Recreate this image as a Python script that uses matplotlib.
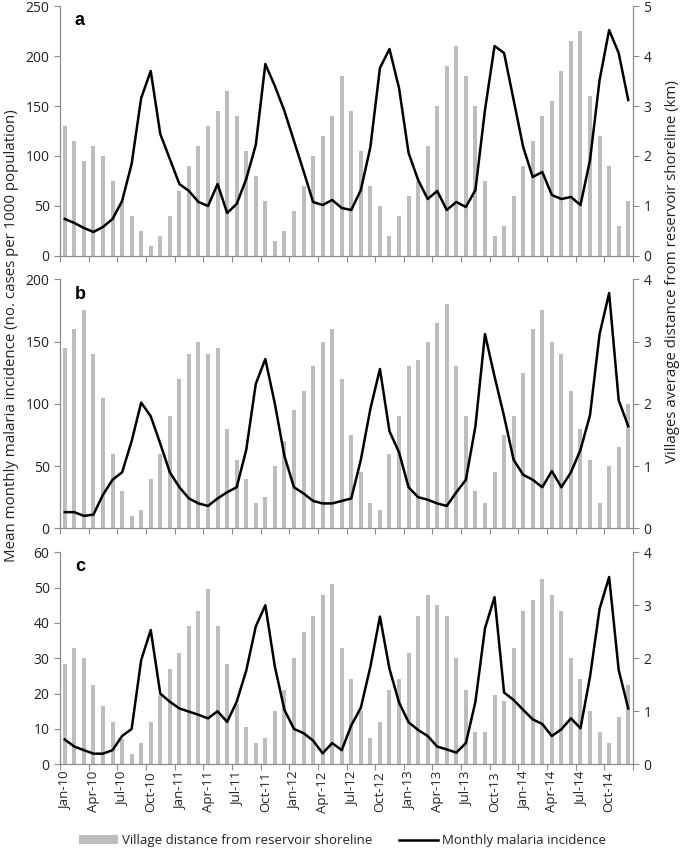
import numpy as np
import matplotlib
matplotlib.use("Agg")
import matplotlib.pyplot as plt
from matplotlib.patches import Patch
from matplotlib.lines import Line2D

plt.rcParams['font.family'] = ['Open Sans', 'DejaVu Sans']

# month labels shown on the x axis (every 3rd month, Jan-10 .. Oct-14)
tick_labels = ["Jan-10", "Apr-10", "Jul-10", "Oct-10",
               "Jan-11", "Apr-11", "Jul-11", "Oct-11",
               "Jan-12", "Apr-12", "Jul-12", "Oct-12",
               "Jan-13", "Apr-13", "Jul-13", "Oct-13",
               "Jan-14", "Apr-14", "Jul-14", "Oct-14"]

# panel a
dist_a = [2.6, 2.3, 1.9, 2.2, 2.0, 1.5, 1.1, 0.8, 0.5, 0.2,
          0.4, 0.8, 1.3, 1.8, 2.2, 2.6, 2.9, 3.3, 2.8, 2.1,
          1.6, 1.1, 0.3, 0.5, 0.9, 1.4, 2.0, 2.4, 2.8, 3.6,
          2.9, 2.1, 1.4, 1.0, 0.4, 0.8, 1.2, 1.5, 2.2, 3.0,
          3.8, 4.2, 3.6, 3.0, 1.5, 0.4, 0.6, 1.2, 1.8, 2.3,
          2.8, 3.1, 3.7, 4.3, 4.5, 3.2, 2.4, 1.8, 0.6, 1.1]
inc_a = [37, 33, 28, 24, 29, 37, 55, 92, 158, 185,
         122, 97, 72, 65, 54, 50, 72, 43, 52, 77,
         111, 192, 170, 145, 115, 85, 54, 51, 56, 48,
         46, 66, 109, 188, 207, 168, 103, 76, 57, 65,
         46, 54, 49, 66, 146, 210, 203, 156, 109, 79,
         84, 61, 57, 59, 51, 96, 176, 226, 203, 156]

# panel b
dist_b = [2.9, 3.2, 3.5, 2.8, 2.1, 1.2, 0.6, 0.2, 0.3, 0.8,
          1.2, 1.8, 2.4, 2.8, 3.0, 2.8, 2.9, 1.6, 1.1, 0.8,
          0.4, 0.5, 1.0, 1.4, 1.9, 2.2, 2.6, 3.0, 3.2, 2.4,
          1.5, 0.9, 0.4, 0.3, 1.2, 1.8, 2.6, 2.7, 3.0, 3.3,
          3.6, 2.6, 1.8, 0.6, 0.4, 0.9, 1.5, 1.8, 2.5, 3.2,
          3.5, 3.0, 2.8, 2.2, 1.6, 1.1, 0.4, 1.0, 1.3, 2.0]
inc_b = [13, 13, 10, 11, 27, 39, 45, 70, 101, 90,
         68, 45, 33, 24, 20, 18, 24, 29, 33, 63,
         116, 136, 100, 58, 33, 28, 22, 20, 20, 22,
         24, 55, 96, 128, 78, 61, 33, 25, 23, 20,
         18, 29, 39, 82, 156, 122, 90, 55, 43, 39,
         33, 46, 33, 45, 63, 91, 156, 189, 103, 82]

# panel c
dist_c = [1.9, 2.2, 2.0, 1.5, 1.1, 0.8, 0.47, 0.2, 0.4, 0.8,
          1.3, 1.8, 2.1, 2.6, 2.9, 3.3, 2.6, 1.9, 1.13, 0.7,
          0.4, 0.5, 1.0, 1.4, 2.0, 2.5, 2.8, 3.2, 3.4, 2.2,
          1.6, 1.0, 0.5, 0.8, 1.4, 1.6, 2.1, 2.8, 3.2, 3.0,
          2.8, 2.0, 1.4, 0.6, 0.6, 1.3, 1.2, 2.2, 2.9, 3.1,
          3.5, 3.2, 2.9, 2.0, 1.6, 1.0, 0.6, 0.4, 0.9, 1.5]
inc_c = [7, 5, 4, 3, 3, 4, 8, 10, 29.5, 38,
         20, 17.7, 15.8, 14.9, 14, 13, 15, 12, 17.7, 26.5,
         39, 45, 27.6, 15.4, 10, 8.8, 6.7, 3.1, 6, 4,
         11, 16, 27.6, 41.8, 27, 17.5, 11.9, 9.7, 8, 5,
         4.2, 3.3, 6, 17.7, 38.5, 47.3, 20.3, 18.2, 15.4, 12.7,
         11.4, 8, 9.9, 13, 10.2, 24.8, 44, 53, 26.7, 15.8]

panels = [
    ("a", dist_a, inc_a, 250, 50, 5, [0.0876, 0.6985, 0.8365, 0.2944]),
    ("b", dist_b, inc_b, 200, 50, 4, [0.0876, 0.3777, 0.8365, 0.2933]),
    ("c", dist_c, inc_c, 60, 10, 4, [0.0876, 0.0998, 0.8365, 0.2497]),
]

bar_col = "#bdbdbd"
spine_col = "#8c8c8c"
txt_col = "#222222"

fig = plt.figure(figsize=(6.85, 8.49), dpi=100)

months = np.arange(len(dist_a))

for k, (letter, dist, inc, ymax, ystep, kmax, rect) in enumerate(panels):
    ax = fig.add_axes(rect)
    ax2 = ax.twinx()
    ax2.bar(months, dist, width=0.42, color=bar_col, zorder=1)
    ax.plot(months, inc, color="black", lw=1.8, zorder=3)
    ax.set_zorder(ax2.get_zorder() + 1)
    ax.patch.set_visible(False)

    ax.set_xlim(-0.5, len(months) - 0.5)
    ax.set_ylim(0, ymax)
    ax.set_yticks(np.arange(0, ymax + 1, ystep))
    ax2.set_ylim(0, kmax)
    ax2.set_yticks(np.arange(0, kmax + 1, 1))

    for a in (ax, ax2):
        a.spines['top'].set_visible(False)
        for s in ('left', 'right', 'bottom'):
            a.spines[s].set_color(spine_col)
            a.spines[s].set_linewidth(0.9)
        a.tick_params(axis='y', colors=spine_col, labelcolor=txt_col,
                      labelsize=10, length=4, width=0.8)
    ax2.spines['left'].set_visible(False)
    ax.spines['right'].set_visible(False)
    ax2.spines['bottom'].set_visible(False)

    # month boundary ticks every quarter, labels centred on the month bar
    ax.set_xticks(np.arange(-0.5, len(months), 3), minor=True)
    ax.tick_params(axis='x', which='minor', length=4, width=0.8,
                   color=spine_col, direction='out')
    ax.set_xticks(np.arange(0, len(months), 3))
    if k == 2:
        ax.set_xticklabels(tick_labels, rotation=90, fontsize=9.5,
                           color=txt_col)
    else:
        ax.set_xticklabels([])
    ax.tick_params(axis='x', which='major', length=0, pad=5)

    ax.text(0.026, 0.975, letter, transform=ax.transAxes, ha='left',
            va='top', fontsize=13, fontweight='bold',
            family='Liberation Sans')

fig.text(0.017, 0.605,
         "Mean monthly malaria incidence (no. cases per 1000 population)",
         rotation=90, ha='center', va='center', fontsize=10.8,
         color=txt_col)
fig.text(0.982, 0.68,
         "Villages average distance from reservoir shoreline (km)",
         rotation=90, ha='center', va='center', fontsize=10.8,
         color=txt_col)

handles = [Patch(facecolor=bar_col, edgecolor='none'),
           Line2D([], [], color='black', lw=1.8)]
fig.legend(handles, ["Village distance from reservoir shoreline",
                     "Monthly malaria incidence"],
           loc='lower center', bbox_to_anchor=(0.5, -0.012), ncol=2,
           frameon=False, fontsize=9.5, handlelength=3, columnspacing=2.0,
           handletextpad=0.3, labelcolor=txt_col)

fig.savefig("out.png", dpi=100)
